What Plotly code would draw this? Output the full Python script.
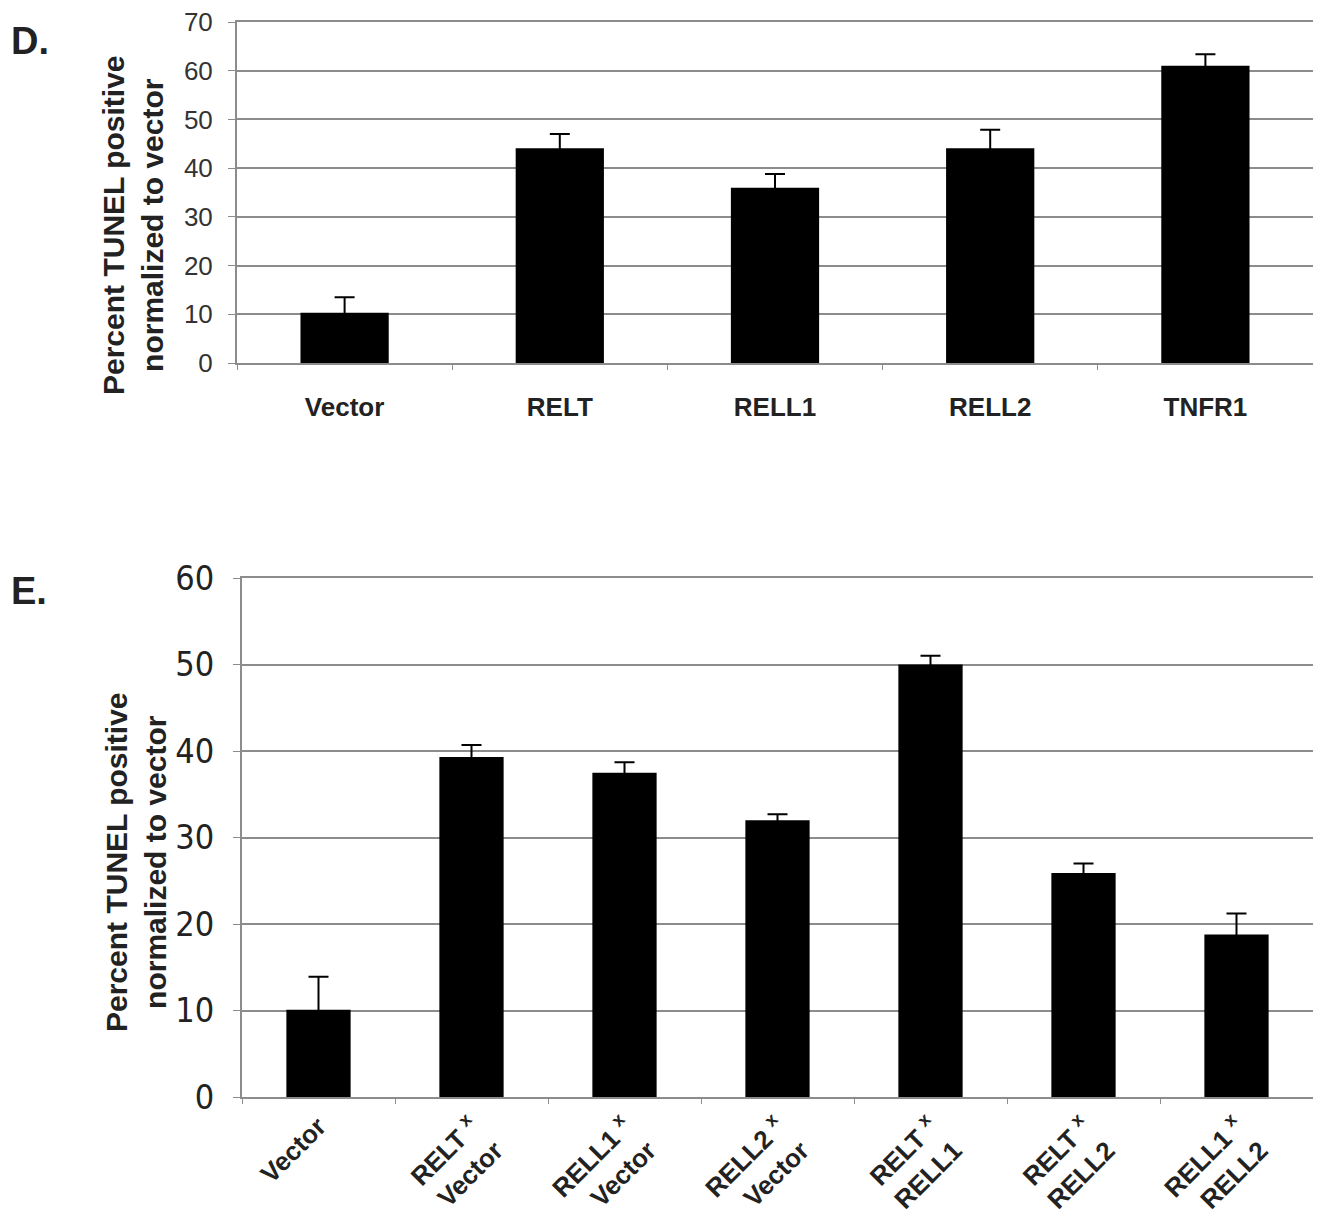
import plotly.graph_objects as go

# Panel D data
d_categories = ["Vector", "RELT", "RELL1", "RELL2", "TNFR1"]
d_values = [10.3, 44.1, 36.0, 44.1, 61.0]
d_errors = [3.2, 2.9, 2.8, 3.8, 2.4]

# Panel E data
e_categories = ["Vector", "RELT <sup>x</sup><br>Vector", "RELL1 <sup>x</sup><br>Vector",
                "RELL2 <sup>x</sup><br>Vector", "RELT <sup>x</sup><br>RELL1",
                "RELT <sup>x</sup><br>RELL2", "RELL1 <sup>x</sup><br>RELL2"]
e_values = [10.1, 39.3, 37.5, 32.0, 50.0, 25.9, 18.8]
e_errors = [3.8, 1.4, 1.2, 0.7, 1.0, 1.1, 2.4]

W, H = 1321, 1232
OFF = 8  # page body margin
GRID = "#8c8c8c"
SANS = "Liberation Sans, Arial, sans-serif"
NARROW = "DejaVu Sans Condensed, Liberation Sans Narrow, Arial Narrow, sans-serif"


def px(x):
    return (x - OFF) / W


def py(y):
    return 1 - (y - OFF) / H


fig = go.Figure()
fig.add_trace(go.Bar(
    x=d_categories, y=d_values, width=0.41,
    marker=dict(color="black", line=dict(width=0)),
    error_y=dict(type="data", array=d_errors, color="black", thickness=2, width=10),
    xaxis="x", yaxis="y", showlegend=False))
fig.add_trace(go.Bar(
    x=e_categories, y=e_values, width=0.42,
    marker=dict(color="black", line=dict(width=0)),
    error_y=dict(type="data", array=e_errors, color="black", thickness=2, width=10),
    xaxis="x2", yaxis="y2", showlegend=False))

common_x = dict(showline=True, linecolor=GRID, linewidth=2, mirror=True,
                showgrid=False, ticks="outside", tickson="boundaries",
                ticklen=5, tickcolor=GRID, zeroline=False, automargin=False,
                ticklabeloverflow="allow")
common_y = dict(showline=True, linecolor=GRID, linewidth=2, mirror=True,
                showgrid=True, gridcolor=GRID, gridwidth=2,
                ticks="outside", ticklen=7, tickcolor=GRID, zeroline=False,
                automargin=False, ticklabeloverflow="allow")

fig.update_layout(
    width=W, height=H, autosize=False,
    margin=dict(l=0, r=0, t=0, b=0, autoexpand=False),
    paper_bgcolor="white", plot_bgcolor="white",
    xaxis=dict(domain=[px(237), px(1313)], anchor="y",
               tickfont=dict(family=SANS, size=26, color="#222222"),
               tickprefix="<b>", ticksuffix="</b>", ticklabelstandoff=20, **common_x),
    yaxis=dict(domain=[py(363), py(22)], anchor="x",
               range=[0, 70], dtick=10, ticklabelstandoff=10,
               tickfont=dict(family=SANS, size=26, color="#333333"), **common_y),
    xaxis2=dict(domain=[px(242), px(1313)], anchor="y2", tickangle=-45,
                tickfont=dict(family=SANS, size=26, color="#222222"),
                tickprefix="<b>", ticksuffix="</b>", ticklabelstandoff=2, **common_x),
    yaxis2=dict(domain=[py(1097), py(578)], anchor="x2",
                range=[0, 60], dtick=10, ticklabelstandoff=12,
                tickfont=dict(family=NARROW, size=34, color="#222222"), **common_y),
    annotations=[
        dict(text="<b>D.</b>", x=px(9), y=py(18), xref="paper", yref="paper",
             xanchor="left", yanchor="top", showarrow=False,
             font=dict(family=SANS, size=38, color="#222222")),
        dict(text="<b>E.</b>", x=px(9), y=py(568), xref="paper", yref="paper",
             xanchor="left", yanchor="top", showarrow=False,
             font=dict(family=SANS, size=38, color="#222222")),
        dict(text="<b>Percent TUNEL positive<br>normalized to vector</b>",
             x=px(133), y=py(225), xref="paper", yref="paper",
             xanchor="center", yanchor="middle", textangle=-90, showarrow=False,
             font=dict(family=SANS, size=30, color="#222222")),
        dict(text="<b>Percent TUNEL positive<br>normalized to vector</b>",
             x=px(136), y=py(862), xref="paper", yref="paper",
             xanchor="center", yanchor="middle", textangle=-90, showarrow=False,
             font=dict(family=SANS, size=30, color="#222222")),
    ],
)

fig.write_html("out.html")
